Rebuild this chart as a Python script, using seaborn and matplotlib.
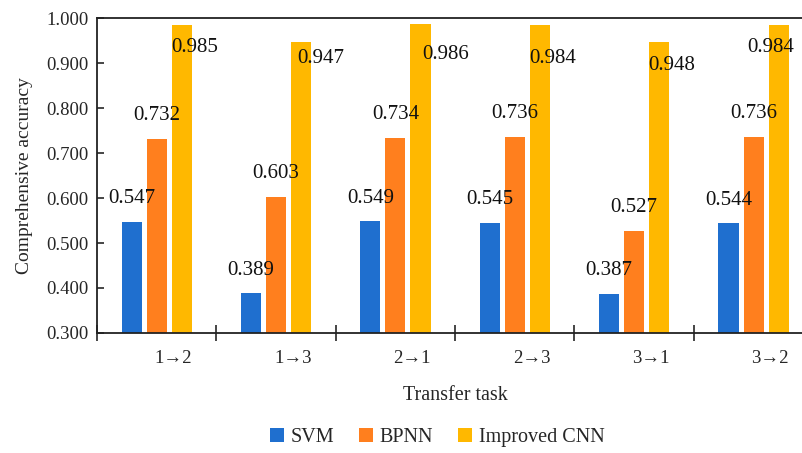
import pandas as pd
import numpy as np
import matplotlib.pyplot as plt
import seaborn as sns

# data
tasks = ['1→2', '1→3', '2→1', '2→3', '3→1', '3→2']
models = ['SVM', 'BPNN', 'Improved CNN']
svm = [0.547, 0.389, 0.549, 0.545, 0.387, 0.544]
bpnn = [0.732, 0.603, 0.734, 0.736, 0.527, 0.736]
cnn = [0.985, 0.947, 0.986, 0.984, 0.948, 0.984]
colors = ['#1f6fcf', '#ff7f1e', '#ffb800']

# the CNN value labels sit inside the bar tops, placed by hand (points)
cnn_dx = [9, 14, 18, 9, 9, -6]
cnn_dy = [-16, -12, -22, -24, -17, -16]

df = pd.DataFrame({
    'task': tasks * 3,
    'model': [m for m in models for _ in tasks],
    'acc': svm + bpnn + cnn,
})

sns.set_style('ticks')
plt.rcParams['font.family'] = ['Liberation Serif', 'DejaVu Serif']

fig = plt.figure(figsize=(8.02, 4.53), dpi=100)
ax = fig.add_axes([0.121, 0.265, 0.893, 0.695])

sns.barplot(data=df, x='task', y='acc', hue='model', hue_order=models,
            palette=colors, saturation=1, width=0.63, gap=0.2, ax=ax,
            edgecolor='none', legend=True)

ax.set_ylim(0.3, 1.0)
ax.set_xlim(-0.5, 5.5)
ax.set_yticks(np.arange(0.3, 1.01, 0.1))
ax.set_yticklabels(['%.3f' % v for v in np.arange(0.3, 1.01, 0.1)], fontsize=13.5)
ax.tick_params(axis='y', direction='in', length=5, width=1.2, pad=6)

# boundary ticks between groups, labels in between
ax.set_xticks(np.arange(-0.5, 6, 1))
ax.set_xticklabels([])
ax.tick_params(axis='x', which='major', direction='inout', length=12, width=1.2)
ax.set_xticks(np.arange(6) + 0.14, minor=True)
ax.set_xticklabels(tasks, minor=True, fontsize=13.5)
ax.tick_params(axis='x', which='minor', length=0, pad=12)

for s in ['left', 'bottom', 'top']:
    ax.spines[s].set_linewidth(1.3)
    ax.spines[s].set_color('#222222')
ax.spines['right'].set_visible(False)

# value labels
for i, cont in enumerate(ax.containers):
    for j, bar in enumerate(cont):
        h = bar.get_height()
        xc = bar.get_x() + bar.get_width() / 2
        if i < 2:
            off = (0, 16.5)
        else:
            off = (cnn_dx[j], cnn_dy[j])
        ax.annotate('%.3f' % h, (xc, h), xytext=off, textcoords='offset points',
                    ha='center', va='center', fontsize=15, color='#111111')

ax.set_xlabel('Transfer task', fontsize=14.5, labelpad=14)
ax.set_ylabel('Comprehensive accuracy', fontsize=14, labelpad=10)

handles, labels = ax.get_legend_handles_labels()
ax.get_legend().remove()
fig.legend(handles, labels, loc='center', bbox_to_anchor=(0.545, 0.035), ncol=3,
           frameon=False, fontsize=14.5, handlelength=0.7, handleheight=0.7,
           handletextpad=0.35, columnspacing=1.2)

fig.savefig('out.png', dpi=100)
